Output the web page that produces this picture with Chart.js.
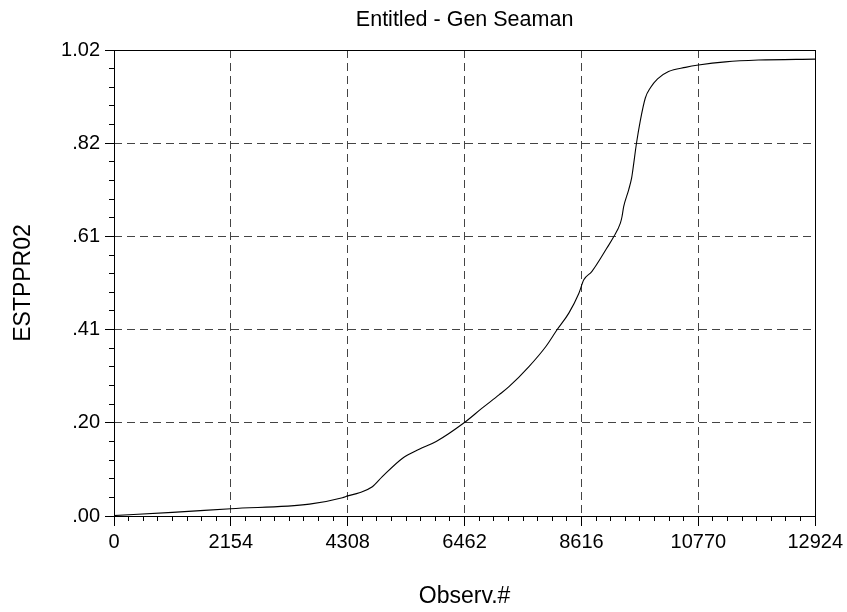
<!DOCTYPE html>
<html>
<head>
<meta charset="utf-8">
<title>Entitled - Gen Seaman</title>
<script src="https://cdn.jsdelivr.net/npm/chart.js@4/dist/chart.umd.min.js"></script>
<style>
  html, body { margin: 0; padding: 0; background: #ffffff; }
  canvas { display: block; }
</style>
</head>
<body>
<canvas id="chart" width="847" height="612"></canvas>
<script>
// Observation number and estimated cumulative value ESTPPR02
const obsNumber = [
  0, 1077, 2154, 3603, 4210, 4308, 4522, 4762, 4945, 5313, 5626, 5938,
  6453, 6784, 7096, 7280, 7648, 7960, 8163, 8383, 8567, 8659, 8806, 9082,
  9210, 9333, 9363, 9394, 9486, 9541, 9560, 9633, 9700, 9793, 9890, 10019,
  10221, 10534, 10773, 11269, 11876, 12924
];
const estppr02 = [
  0.001, 0.008, 0.016, 0.026, 0.040, 0.044, 0.051, 0.064, 0.086, 0.126, 0.146, 0.163,
  0.204, 0.236, 0.265, 0.283, 0.327, 0.371, 0.407, 0.444, 0.487, 0.517, 0.535, 0.586,
  0.611, 0.641, 0.655, 0.677, 0.714, 0.740, 0.755, 0.818, 0.865, 0.915, 0.938, 0.957,
  0.973, 0.982, 0.987, 0.994, 0.998, 1.000
];

// Axis ticks and their labels
const xTickValues = [0, 2154, 4308, 6462, 8616, 10770, 12924];
const xTickLabels = ['0', '2154', '4308', '6462', '8616', '10770', '12924'];
const yTickValues = [0, 0.204, 0.408, 0.612, 0.816, 1.02];
const yTickLabels = ['.00', '.20', '.41', '.61', '.82', '1.02'];

const X_MAX = 12924, Y_MAX = 1.02;
const FONT = 'Liberation Sans, Arial, Helvetica, sans-serif';
const GRID = '#444444';

const points = obsNumber.map((x, i) => ({ x: x, y: estppr02[i] }));

// Solid frame around the plotting area; title centred over the plot
const framePlugin = {
  id: 'frame',
  afterLayout(chart) {
    const t = chart.titleBlock, a = chart.chartArea;
    if (t) { t.left = a.left; t.right = a.right; t.width = a.right - a.left; }
  },
  afterDraw(chart) {
    const a = chart.chartArea, c = chart.ctx;
    c.save();
    c.strokeStyle = '#000';
    c.lineWidth = 1;
    c.strokeRect(Math.round(a.left) + 0.5, Math.round(a.top) + 0.5,
                 Math.round(a.right - a.left), Math.round(a.bottom - a.top));
    c.restore();
  }
};

const hideEdges = (n) => (ctx) => (ctx.index === 0 || ctx.index === n - 1) ? 'rgba(0,0,0,0)' : GRID;

new Chart(document.getElementById('chart'), {
  type: 'line',
  data: {
    datasets: [{
      data: points,
      borderColor: '#000',
      borderWidth: 1.1,
      pointRadius: 0,
      fill: false,
      cubicInterpolationMode: 'monotone'
    }]
  },
  options: {
    responsive: false,
    animation: false,
    layout: { padding: { left: 0, right: 30, top: 0, bottom: 0 } },
    plugins: {
      legend: { display: false },
      tooltip: { enabled: false },
      title: {
        display: true,
        text: 'Entitled - Gen Seaman',
        color: '#000',
        font: { family: FONT, size: 21.5, weight: 'normal' },
        padding: { top: 7, bottom: 17.2 }
      }
    },
    scales: {
      x: {
        type: 'linear', position: 'bottom', weight: 1,
        min: 0, max: X_MAX,
        afterBuildTicks: (s) => { s.ticks = xTickValues.map(v => ({ value: v })); },
        afterFit: (s) => { s.height = 96; },
        ticks: {
          color: '#000', padding: 4, maxRotation: 0, autoSkip: false,
          font: { family: FONT, size: 20 },
          callback: (v, i) => xTickLabels[i]
        },
        grid: {
          color: hideEdges(xTickValues.length), lineWidth: 1,
          tickColor: '#000', tickLength: 10, tickBorderDash: []
        },
        border: { display: false, dash: [8, 5] },
        title: {
          display: true, text: 'Observ.#', color: '#000',
          font: { family: FONT, size: 23, weight: 'normal' },
          padding: { top: 0, bottom: 2 }
        }
      },
      xMinor: {
        type: 'linear', position: 'bottom', weight: 0,
        min: 0, max: X_MAX,
        afterFit: (s) => { s.height = 0; },
        ticks: { display: false, stepSize: X_MAX / 48, maxTicksLimit: 100 },
        grid: {
          drawOnChartArea: false, color: 'rgba(0,0,0,0)',
          tickColor: '#000', tickLength: 5, tickBorderDash: []
        },
        border: { display: false }
      },
      y: {
        type: 'linear', position: 'left', weight: 1,
        min: 0, max: Y_MAX,
        afterBuildTicks: (s) => { s.ticks = yTickValues.map(v => ({ value: v })); },
        afterFit: (s) => { s.width = 114; },
        ticks: {
          color: '#000', padding: 5, autoSkip: false,
          font: { family: FONT, size: 20 },
          callback: (v, i) => yTickLabels[i]
        },
        grid: {
          color: hideEdges(yTickValues.length), lineWidth: 1,
          tickColor: '#000', tickLength: 9, tickBorderDash: []
        },
        border: { display: false, dash: [8, 5] },
        title: {
          display: true, text: 'ESTPPR02', color: '#000',
          font: { family: FONT, size: 23, weight: 'normal' },
          padding: { top: 10, bottom: 0 }
        }
      },
      yMinor: {
        type: 'linear', position: 'left', weight: 0,
        min: 0, max: Y_MAX,
        afterFit: (s) => { s.width = 0; },
        ticks: { display: false, stepSize: Y_MAX / 25, maxTicksLimit: 100 },
        grid: {
          drawOnChartArea: false, color: 'rgba(0,0,0,0)',
          tickColor: '#000', tickLength: 5, tickBorderDash: []
        },
        border: { display: false }
      }
    }
  },
  plugins: [framePlugin]
});
</script>
</body>
</html>
